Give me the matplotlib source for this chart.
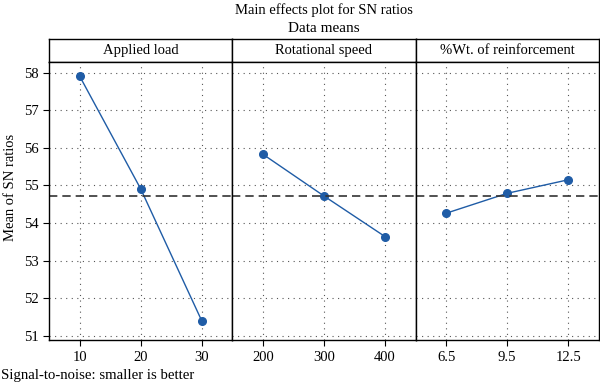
import matplotlib
matplotlib.use("Agg")
import matplotlib.pyplot as plt

plt.rcParams['font.family'] = ['Liberation Serif', 'DejaVu Serif']

# Faktörler, seviyeler ve SN oranı ortalamaları
faktorler = ["Applied load", "Rotational speed", "%Wt. of reinforcement"]
seviyeler = [["10", "20", "30"], ["200", "300", "400"], ["6.5", "9.5", "12.5"]]
sn_ortalama = [
    [57.91, 54.91, 51.40],
    [55.83, 54.72, 53.64],
    [54.26, 54.79, 55.15],
]
genel_ortalama = 54.73
y_ticks = [51, 52, 53, 54, 55, 56, 57, 58]

mavi = "#1f5ca6"

fig = plt.figure(figsize=(6, 3.89), dpi=100)
sol, sag, alt, ust_kenar = 0.0817, 0.998, 0.126, 0.899
gs = fig.add_gridspec(2, 3, height_ratios=[22.4, 278.3], hspace=0, wspace=0,
                      left=sol, right=sag, bottom=alt, top=ust_kenar)

for i in range(3):
    # başlık şeridi
    ust = fig.add_subplot(gs[0, i])
    ust.set_xticks([])
    ust.set_yticks([])
    ust.text(0.5, 0.5, faktorler[i], ha="center", va="center", fontsize=10.5,
             transform=ust.transAxes)
    for s in ust.spines.values():
        s.set_linewidth(1.0)

    ax = fig.add_subplot(gs[1, i])
    x = list(range(len(seviyeler[i])))
    ax.plot(x, sn_ortalama[i], color=mavi, lw=1.0, marker="o", ms=5.5)
    ax.axhline(genel_ortalama, color="#333333", lw=1.2, ls=(0, (5, 3)))
    ax.set_xlim(-0.5, 2.5)
    ax.set_ylim(50.89, 58.29)
    ax.set_xticks(x)
    ax.set_xticklabels(seviyeler[i], fontsize=10.5)
    ax.set_yticks(y_ticks)
    ax.grid(True, ls=(0, (1, 4)), color="#555555", lw=0.8)
    ax.tick_params(axis="x", length=4, direction="out", pad=4)
    if i == 0:
        ax.set_yticklabels([str(v) for v in y_ticks], fontsize=10.5)
        ax.tick_params(axis="y", length=4, direction="out")
    else:
        ax.tick_params(axis="y", length=0, labelleft=False)
    for s in ax.spines.values():
        s.set_linewidth(1.0)

orta_x = (sol + sag) / 2
fig.text(orta_x, 0.974, "Main effects plot for SN ratios", ha="center", va="center", fontsize=10.5)
fig.text(orta_x, 0.928, "Data means", ha="center", va="center", fontsize=11)
fig.text(0.017, (alt + ust_kenar) / 2 + 0.005, "Mean of SN ratios", rotation=90,
         ha="center", va="center", fontsize=10.5)
fig.text(0.002, 0.035, "Signal-to-noise: smaller is better", ha="left", va="center", fontsize=10.6)

fig.savefig("out.png", dpi=100)
